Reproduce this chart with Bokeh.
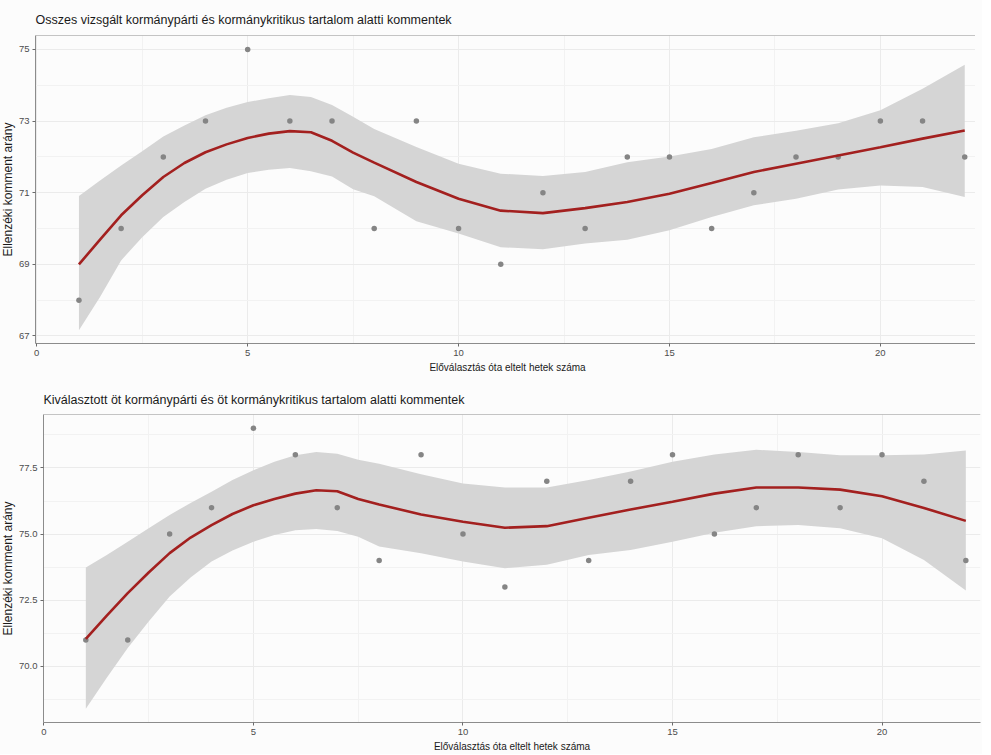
from bokeh.plotting import figure
from bokeh.layouts import column
from bokeh.models import FixedTicker, Range1d, Span
from bokeh.embed import file_html
from bokeh.resources import INLINE

# ---------------- data ----------------
weeks = list(range(1, 23))
top_points = [68, 70, 72, 73, 75, 73, 73, 70, 73, 70, 69, 71, 70, 72, 72, 70, 71, 72, 72, 73, 73, 72]
bottom_points = [71, 71, 75, 76, 79, 78, 76, 74, 78, 75, 73, 77, 74, 77, 78, 75, 76, 78, 76, 78, 77, 74]

smooth_x = [1, 1.5, 2, 2.5, 3, 3.5, 4, 4.5, 5, 5.5, 6, 6.5, 7, 7.5, 8, 9, 10, 11, 12, 13, 14, 15,
            16, 17, 18, 19, 20, 21, 22]
top_fit = [69.00, 69.69, 70.37, 70.93, 71.44, 71.83, 72.13, 72.35, 72.53, 72.65, 72.72, 72.69, 72.45,
           72.12, 71.84, 71.30, 70.83, 70.50, 70.43, 70.57, 70.74, 70.97, 71.27, 71.58, 71.81, 72.04,
           72.27, 72.51, 72.74]
top_lo = [67.16, 68.09, 69.11, 69.76, 70.32, 70.74, 71.11, 71.36, 71.55, 71.64, 71.69, 71.60, 71.45,
          71.10, 70.90, 70.20, 69.86, 69.48, 69.42, 69.58, 69.69, 69.95, 70.32, 70.65, 70.83, 71.09,
          71.20, 71.16, 70.88]
top_hi = [70.91, 71.34, 71.76, 72.16, 72.57, 72.88, 73.16, 73.37, 73.53, 73.64, 73.73, 73.67, 73.45,
          73.12, 72.78, 72.28, 71.81, 71.53, 71.47, 71.58, 71.85, 72.01, 72.22, 72.55, 72.73, 72.94,
          73.30, 73.90, 74.57]

bot_fit = [71.04, 71.92, 72.77, 73.55, 74.28, 74.87, 75.34, 75.76, 76.09, 76.33, 76.53, 76.66, 76.62,
           76.33, 76.12, 75.74, 75.47, 75.24, 75.30, 75.62, 75.93, 76.22, 76.53, 76.76, 76.76, 76.68,
           76.43, 75.99, 75.50]
bot_lo = [68.40, 69.57, 70.70, 71.70, 72.64, 73.36, 73.96, 74.38, 74.71, 74.97, 75.15, 75.19, 75.12,
          74.90, 74.53, 74.28, 73.96, 73.71, 73.84, 74.21, 74.40, 74.71, 75.05, 75.30, 75.34, 75.22,
          74.84, 74.02, 72.87]
bot_hi = [73.74, 74.21, 74.71, 75.22, 75.72, 76.18, 76.60, 77.04, 77.41, 77.73, 77.98, 78.10, 78.04,
          77.81, 77.66, 77.26, 76.91, 76.76, 76.76, 77.04, 77.37, 77.73, 78.01, 78.19, 78.10, 77.98,
          77.98, 78.01, 78.16]

x_ticks = [0, 5, 10, 15, 20]
x_minor = [2.5, 7.5, 12.5, 17.5, 22.5]
top_y_ticks = [67, 69, 71, 73, 75]
top_y_minor = [68, 70, 72, 74]
bot_y_ticks = [70.0, 72.5, 75.0, 77.5]
bot_y_minor = [68.75, 71.25, 73.75, 76.25, 78.75]

title_top = "Osszes vizsgált kormánypárti és kormánykritikus tartalom alatti kommentek"
title_bot = "Kiválasztott öt kormánypárti és öt kormánykritikus tartalom alatti kommentek"
x_label = "Előválasztás óta eltelt hetek száma"
y_label = "Ellenzéki komment arány"

FONT = "Liberation Sans"
BG = "#fcfcfc"


def make_panel(title, pts, fit, lo, hi, xr, yr, yt, ytm, fmt_dec,
               fw, fh, mb_top, mb_bottom, shift_left, standoff):
    p = figure(frame_width=fw, frame_height=fh, output_backend="svg", toolbar_location=None,
               x_range=Range1d(*xr), y_range=Range1d(*yr),
               min_border_left=0, min_border_right=0, min_border_top=mb_top,
               min_border_bottom=mb_bottom, title=title, margin=(0, 0, 0, -shift_left))
    p.background_fill_color = BG
    p.border_fill_color = BG
    p.outline_line_color = None
    p.title.text_font = FONT
    p.title.text_font_size = "12.5px"
    p.title.text_font_style = "normal"
    p.title.text_color = "#1a1a1a"
    p.title.align = "left"
    p.title.standoff = standoff

    for g in (p.xgrid, p.ygrid):
        g.grid_line_color = "#ebebeb"
        g.grid_line_width = 1
        g.minor_grid_line_color = "#f2f2f2"
        g.minor_grid_line_width = 1

    p.xaxis.ticker = FixedTicker(ticks=x_ticks, minor_ticks=x_minor)
    p.yaxis.ticker = FixedTicker(ticks=yt, minor_ticks=ytm)
    if fmt_dec:
        p.yaxis.major_label_overrides = {t: f"{t:.1f}" for t in yt}

    for ax in (p.xaxis, p.yaxis):
        ax.axis_line_color = "#8c8c8c"
        ax.axis_line_width = 1
        ax.major_tick_line_color = "#6b6b6b"
        ax.major_tick_out = 3
        ax.major_tick_in = 0
        ax.minor_tick_line_color = None
        ax.major_label_text_font = FONT
        ax.major_label_text_font_size = "9.5px"
        ax.major_label_text_color = "#4d4d4d"
        ax.major_label_standoff = 2
    p.xaxis.axis_label = x_label
    p.xaxis.axis_label_text_font = FONT
    p.xaxis.axis_label_text_font_size = "10px"
    p.xaxis.axis_label_text_font_style = "normal"
    p.xaxis.axis_label_text_color = "#1a1a1a"
    p.xaxis.axis_label_standoff = 3
    p.yaxis.axis_label = y_label
    p.yaxis.axis_label_text_font = FONT
    p.yaxis.axis_label_text_font_size = "12px"
    p.yaxis.axis_label_text_font_style = "normal"
    p.yaxis.axis_label_text_color = "#1a1a1a"
    p.yaxis.axis_label_standoff = 1

    p.add_layout(Span(location=yr[1], dimension="width", line_color="#8c8c8c", line_width=1))

    p.varea(x=smooth_x, y1=lo, y2=hi, fill_color="#d5d5d5", fill_alpha=1.0)
    p.scatter(x=weeks, y=pts, size=5.5, fill_color="#858585", line_color=None)
    p.line(x=smooth_x, y=fit, line_color="#a3201f", line_width=2.6)
    return p


p1 = make_panel(title_top, top_points, top_fit, top_lo, top_hi,
                (-0.03, 22.35), (66.79, 75.39), top_y_ticks, top_y_minor, False,
                947, 308, 35, 34, 10, 18)
p2 = make_panel(title_bot, bottom_points, bot_fit, bot_lo, bot_hi,
                (-0.01, 22.35), (67.88, 79.52), bot_y_ticks, bot_y_minor, True,
                939, 308, 37, 30, 2, 15)

layout = column(p1, p2, spacing=0, background=BG)
open("out.html", "w").write(file_html(layout, INLINE))
